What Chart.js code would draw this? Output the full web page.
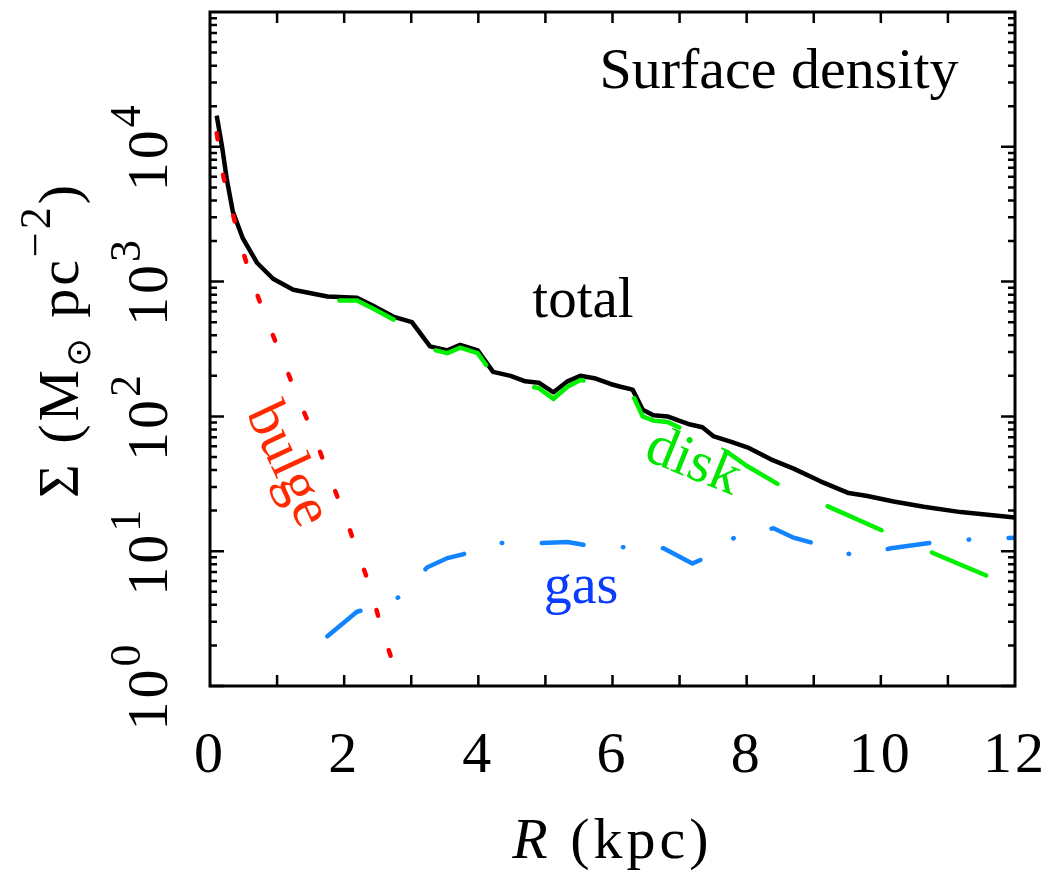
<!DOCTYPE html>
<html>
<head>
<meta charset="utf-8">
<script src="https://cdn.jsdelivr.net/npm/chart.js@4.4.1/dist/chart.umd.min.js"></script>
<style>
  html, body { margin: 0; padding: 0; background: #fff; }
  #wrap { width: 1056px; height: 871px; }
</style>
</head>
<body>
<div id="wrap"><canvas id="sd" width="1056" height="871"></canvas></div>
<script>
// surface density profiles, R in kpc, Sigma in Msun/pc^2
const R_TOTAL = [0.10, 0.18, 0.25, 0.34, 0.49, 0.70, 0.94, 1.24, 1.75, 2.19, 2.43, 2.73, 3.01, 3.28, 3.54, 3.73, 3.99, 4.22, 4.48, 4.70, 4.90, 5.12, 5.33, 5.52, 5.75, 5.97, 6.12, 6.30, 6.45, 6.61, 6.82, 6.99, 7.16, 7.34, 7.51, 7.76, 8.01, 8.36, 8.70, 9.10, 9.52, 9.80, 10.19, 10.64, 11.19, 12.0];
const SIGMA_TOTAL = [17000, 10000, 5750, 3310, 2090, 1380, 1050, 871, 776, 759, 661, 550, 501, 331, 309, 339, 309, 214, 200, 182, 178, 151, 182, 200, 191, 174, 166, 158, 112, 102, 100, 93, 87, 83, 71, 65, 59, 48, 41, 33, 27, 25.7, 23.4, 21.4, 19.5, 17.8];

const R_DISK = [1.72, 2.19, 2.43, 2.73, 3.01, 3.28, 3.54, 3.73, 3.99, 4.22, 4.48, 4.70, 4.90, 5.12, 5.33, 5.52, 5.75, 5.97, 6.12, 6.30, 6.45, 6.61, 6.82, 6.99, 7.16, 7.34, 7.51, 7.72, 8.00, 8.46, 9.22, 10.04, 10.82, 11.67];
const SIGMA_DISK = [724, 724, 631, 525, 479, 316, 295, 324, 295, 204, 191, 170, 162, 135, 166, 186, 178, 162, 155, 145, 100, 93, 91, 83, 76, 71, 60, 54, 43, 31.6, 21.4, 14.1, 9.5, 6.3];

const R_BULGE = [0.10, 0.20, 0.30, 0.45, 0.63, 0.85, 1.07, 1.30, 1.54, 1.76, 1.99, 2.19, 2.39, 2.55, 2.84];
const SIGMA_BULGE = [12600, 6000, 3800, 1950, 1000, 513, 275, 141, 74, 38, 19.5, 10.2, 5.4, 2.75, 1.0];

const R_GAS = [1.75, 2.19, 2.31, 2.84, 3.24, 3.54, 3.78, 3.85, 4.35, 4.95, 5.33, 5.64, 6.19, 6.76, 7.19, 7.42, 7.87, 8.40, 8.70, 9.07, 9.60, 10.15, 10.82, 11.42, 12.0];
const SIGMA_GAS = [2.34, 3.55, 3.7, 4.6, 7.6, 8.9, 9.5, 10.0, 11.5, 11.5, 11.7, 11.0, 10.7, 10.5, 8.1, 9.1, 13.2, 14.8, 12.6, 11.2, 9.3, 10.5, 11.7, 12.3, 12.6];

const X_LABELS = [0, 2, 4, 6, 8, 10, 12];
const X_MINOR = [1, 2, 3, 4, 5, 6, 7, 8, 9, 10, 11];
const Y_DECADES = [0, 1, 2, 3, 4];

const pts = (xs, ys) => xs.map((r, i) => ({ x: r, y: ys[i] }));

const SERIF = '"Liberation Serif", "DejaVu Serif", serif';

// text made of runs (superscripts, subscripts, mixed fonts)
function drawRuns(ctx, runs, x, y, angle, baseline, spacing) {
  ctx.save();
  ctx.translate(x, y);
  ctx.rotate(angle);
  ctx.textAlign = 'left';
  ctx.textBaseline = baseline || 'alphabetic';
  ctx.letterSpacing = (spacing || 0) + 'px';
  let total = 0;
  runs.forEach(r => { ctx.font = r.font; r.w = ctx.measureText(r.text).width; total += r.w; });
  let cx = -total / 2;
  runs.forEach(r => {
    ctx.font = r.font;
    ctx.fillStyle = r.color || '#000';
    ctx.fillText(r.text, cx, r.dy || 0);
    cx += r.w;
  });
  ctx.restore();
}

const framePlugin = {
  id: 'frame',
  afterDatasetsDraw(chart) {
    const { ctx, chartArea: a } = chart;
    const xs = chart.scales.x, ys = chart.scales.y;
    ctx.save();
    ctx.strokeStyle = '#000';
    ctx.lineWidth = 3;
    ctx.strokeRect(a.left, a.top, a.right - a.left, a.bottom - a.top);

    // inward ticks
    ctx.lineWidth = 2.5;
    ctx.beginPath();
    X_MINOR.forEach(v => {
      const px = xs.getPixelForValue(v);
      ctx.moveTo(px, a.bottom); ctx.lineTo(px, a.bottom - 11);
      ctx.moveTo(px, a.top); ctx.lineTo(px, a.top + 11);
    });
    for (let d = 0; d <= 4; d++) {
      for (let m = 1; m <= 9; m++) {
        const py = ys.getPixelForValue(m * Math.pow(10, d));
        const len = m === 1 ? 14 : 7;
        ctx.moveTo(a.left, py); ctx.lineTo(a.left + len, py);
        ctx.moveTo(a.right, py); ctx.lineTo(a.right - len, py);
      }
    }
    ctx.stroke();

    // tick labels
    X_LABELS.forEach(v => {
      drawRuns(ctx, [{ text: String(v), font: '58px ' + SERIF }], xs.getPixelForValue(v), a.bottom + 86, 0, null, 3);
    });
    Y_DECADES.forEach(d => {
      const py = ys.getPixelForValue(Math.pow(10, d));
      drawRuns(ctx, [
        { text: '10', font: '58px ' + SERIF },
        { text: String(d), font: '44px ' + SERIF, dy: -27 }
      ], a.left - 43, py, -Math.PI / 2, null, 3);
    });

    // axis titles
    drawRuns(ctx, [
      { text: 'R', font: 'italic 58px ' + SERIF },
      { text: ' (kpc)', font: '58px ' + SERIF }
    ], (a.left + a.right) / 2, 858, 0, null, 4);
    drawRuns(ctx, [
      { text: 'Σ (M', font: '58px ' + SERIF },
      { text: '⊙', font: '34px "DejaVu Sans"', dy: 12 },
      { text: ' pc', font: '58px ' + SERIF },
      { text: '−2', font: '44px ' + SERIF, dy: -28 },
      { text: ')', font: '58px ' + SERIF }
    ], 78, 340, -Math.PI / 2, null, 3);

    // curve labels
    drawRuns(ctx, [{ text: 'Surface density', font: '58px ' + SERIF }], 779, 88, 0);
    drawRuns(ctx, [{ text: 'total', font: '57px ' + SERIF }], 583, 317, 0);
    drawRuns(ctx, [{ text: 'gas', font: '56px ' + SERIF, color: '#0a3cff' }], 581, 603, 0);
    drawRuns(ctx, [{ text: 'bulge', font: '58px ' + SERIF, color: '#ff2a00' }], 287, 465, 65 * Math.PI / 180, 'middle');
    drawRuns(ctx, [{ text: 'disk', font: '58px ' + SERIF, color: '#00e600' }], 693, 463, 22 * Math.PI / 180, 'middle');
    ctx.restore();
  }
};

new Chart(document.getElementById('sd'), {
  type: 'scatter',
  data: {
    datasets: [
      {
        label: 'gas', data: pts(R_GAS, SIGMA_GAS), showLine: true,
        borderColor: '#1384ff', borderWidth: 4.5, borderDash: [42, 39.5, 0.5, 39.5], borderCapStyle: 'round',
        pointRadius: 0, tension: 0
      },
      {
        label: 'bulge', data: pts(R_BULGE, SIGMA_BULGE), showLine: true,
        borderColor: '#ff0000', borderWidth: 4.5, borderDash: [6, 36], borderCapStyle: 'round',
        pointRadius: 0, tension: 0
      },
      {
        label: 'disk', data: pts(R_DISK, SIGMA_DISK), showLine: true,
        borderColor: '#00f000', borderWidth: 4.5, borderDash: [59, 55], borderDashOffset: -14, borderCapStyle: 'round',
        pointRadius: 0, tension: 0
      },
      {
        label: 'total', data: pts(R_TOTAL, SIGMA_TOTAL), showLine: true,
        borderColor: '#000', borderWidth: 4.5, borderJoinStyle: 'round',
        pointRadius: 0, tension: 0
      }
    ]
  },
  options: {
    responsive: false,
    animation: false,
    layout: { padding: { left: 210, right: 41, top: 12, bottom: 185 } },
    plugins: { legend: { display: false }, tooltip: { enabled: false } },
    scales: {
      x: { type: 'linear', min: 0, max: 12, display: false },
      y: { type: 'logarithmic', min: 1, max: 100000, display: false }
    }
  },
  plugins: [framePlugin]
});
</script>
</body>
</html>
